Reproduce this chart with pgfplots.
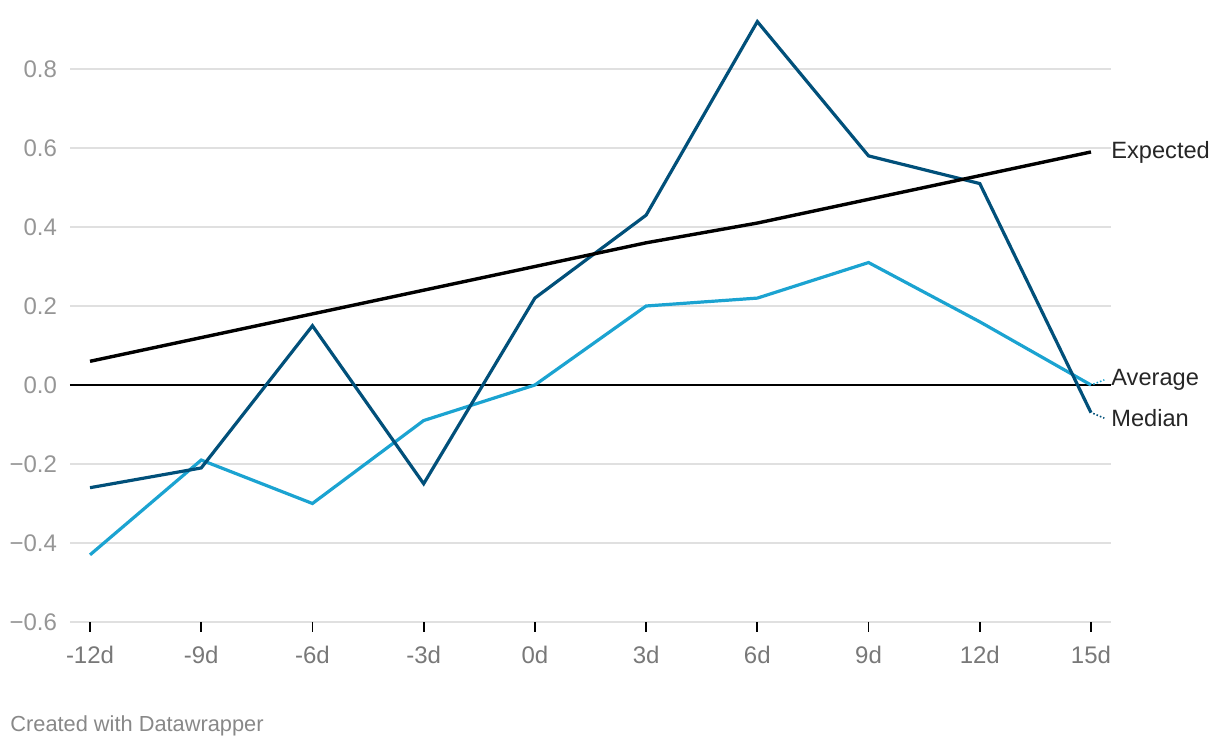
\documentclass[border=0pt]{standalone}
\usepackage{pgfplots}
\pgfplotsset{compat=1.18}
\usepackage{fontspec}
\setmainfont{Liberation Sans}

\definecolor{median}{RGB}{1,80,122}
\definecolor{average}{RGB}{27,163,209}
\definecolor{gridgray}{RGB}{224,224,224}
\definecolor{ticklab}{RGB}{150,150,150}
\definecolor{xlab}{RGB}{120,120,120}
\definecolor{footer}{RGB}{136,136,136}

\begin{document}
\begin{tikzpicture}
  \useasboundingbox (-35pt,-63pt) rectangle (575pt,311pt);
  \begin{axis}[
    scale only axis,
    width=520.5pt, height=308.1pt,
    xmin=-0.18, xmax=9.18,
    ymin=-0.6, ymax=0.96,
    axis x line*=bottom,
    axis y line*=left,
    x axis line style={draw=none},
    y axis line style={draw=none},
    xtick={0,...,9},
    xticklabels={-12d,-9d,-6d,-3d,0d,3d,6d,9d,12d,15d},
    ytick={-0.6,-0.4,-0.2,0,0.2,0.4,0.6,0.8},
    yticklabels={−0.6,−0.4,−0.2,0.0,0.2,0.4,0.6,0.8},
    ymajorgrids,
    grid style={gridgray, line width=0.6pt},
    x tick style={black, line width=0.9pt},
    y tick style={draw=none},
    tick align=outside,
    major tick length=5pt,
    x tick label style={font=\fontsize{12}{14}\selectfont, text=xlab, yshift=-3.5pt},
    y tick label style={font=\fontsize{12}{14}\selectfont, text=ticklab, xshift=2pt},
    extra y ticks={0},
    extra y tick labels={},
    extra y tick style={grid style={black, line width=0.6pt}},
    clip=false,
  ]

    % Average
    \addplot[average, line width=1.6pt] coordinates {
      (0,-0.43) (1,-0.19) (2,-0.30) (3,-0.09) (4,0.00)
      (5,0.20) (6,0.22) (7,0.31) (8,0.16) (9,0.00)
    };

    % Median
    \addplot[median, line width=1.6pt] coordinates {
      (0,-0.26) (1,-0.21) (2,0.15) (3,-0.25) (4,0.22)
      (5,0.43) (6,0.92) (7,0.58) (8,0.51) (9,-0.07)
    };

    % Expected
    \addplot[black, line width=1.7pt] coordinates {
      (0,0.06) (1,0.12) (2,0.18) (3,0.24) (4,0.30)
      (5,0.36) (6,0.41) (7,0.47) (8,0.53) (9,0.59)
    };

    \draw[average, line width=0.8pt, densely dotted] (axis cs:9.02,0.002) -- (axis cs:9.12,0.013);
    \draw[median, line width=0.8pt, densely dotted] (axis cs:9.02,-0.072) -- (axis cs:9.12,-0.084);

    \node[anchor=west, inner sep=0pt, font=\fontsize{11.8}{13}\selectfont, text=black!85]
      at (axis cs:9.18,0.59) {Expected};
    \node[anchor=west, inner sep=0pt, font=\fontsize{11.8}{13}\selectfont, text=black!85]
      at (axis cs:9.18,0.013) {Average};
    \node[anchor=west, inner sep=0pt, font=\fontsize{11.8}{13}\selectfont, text=black!85]
      at (axis cs:9.18,-0.084) {Median};
  \end{axis}
  \node[anchor=base west, inner sep=0pt, font=\fontsize{10.9}{13}\selectfont, text=footer]
    at (-30pt,-55pt) {Created with Datawrapper};
\end{tikzpicture}
\end{document}
